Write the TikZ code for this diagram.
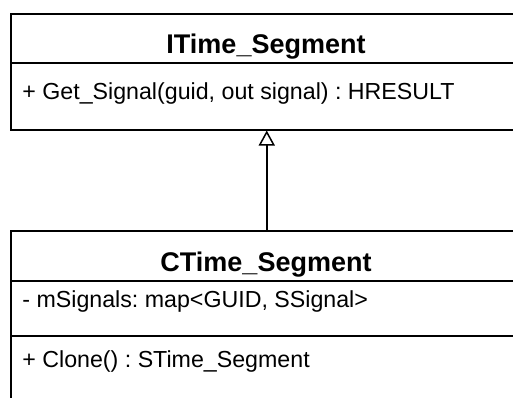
\documentclass[tikz,border=0pt]{standalone}
\usepackage{fontspec}
\setmainfont{Liberation Sans}
\frenchspacing
\usetikzlibrary{arrows.meta,positioning}

\begin{document}
\begin{tikzpicture}[x=0.5pt,y=-0.5pt,
    classbox/.style={draw, line width=0.75pt, minimum width=256pt, anchor=north west, inner sep=0pt},
    classname/.style={anchor=base, inner sep=0pt, font=\fontsize{13.5}{16}\selectfont\bfseries},
    member/.style={anchor=base west, inner sep=0pt, font=\fontsize{11.6}{14}\selectfont}]
    \useasboundingbox (0,0) rectangle (513,397);
    \clip (0,0) rectangle (513,397);

    % interface
    \node[classbox, minimum height=58pt] (iseg) at (10,13) {};
    \draw[line width=0.75pt] (10,63) -- (522,63);
    \node[classname] (isegname) at (266,53) {ITime\_Segment};
    \node[member] (getsig) at (22,99) {+ Get\_Signal(guid, out signal) : HRESULT};

    % class
    \node[classbox, minimum height=95pt] (cseg) at (10,230) {};
    \draw[line width=0.75pt] (10,281) -- (522,281);
    \draw[line width=0.75pt] (10,336) -- (522,336);
    \node[classname] (csegname) at (266,271.5) {CTime\_Segment};
    \node[member] (msig) at (22,307) {- mSignals: map<GUID, SSignal>};
    \node[member] (clone) at (22,367) {+ Clone() : STime\_Segment};

    \draw[-{Triangle[open, length=7.5pt, width=8pt]}, line width=0.75pt] (cseg.north) -- (iseg.south);
\end{tikzpicture}
\end{document}
